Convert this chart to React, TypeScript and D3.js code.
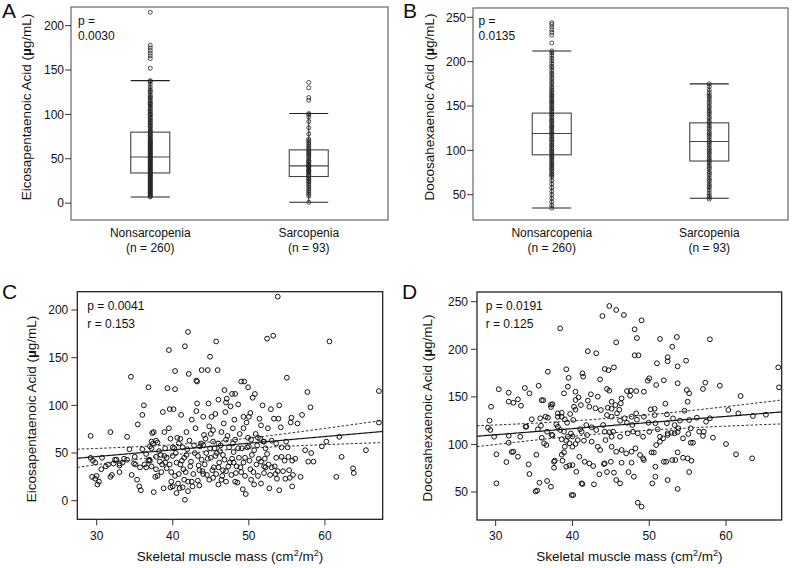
import React, { useEffect, useRef } from "react";
import * as d3 from "d3";

const FONT = '"Liberation Sans", Arial, Helvetica, sans-serif';

const groups = ["Nonsarcopenia", "Sarcopenia"];
const groupSizes = ["(n = 260)", "(n = 93)"];

// [lower whisker, Q1, median, Q3, upper whisker]
const epaStats = [[7, 34, 52, 80, 138], [1, 30, 42, 60, 101]];
const dhaStats = [[35, 95, 119, 142, 212], [46, 88, 110, 131, 175]];

// individual values plotted over the boxes
const epaNonsarc = [7, 8, 9, 10, 11, 12, 13, 14, 15, 16, 17, 18, 19, 20, 21, 22, 23, 24, 25, 26, 27, 28, 29, 30, 31, 32, 33, 34, 35, 36, 37, 38, 39, 40, 41, 42, 43, 44, 45, 46, 47, 48, 49, 50, 51, 52, 53, 54, 55, 56, 57, 58, 59, 60, 61, 62, 63, 64, 65, 66, 67, 68, 69, 70, 71, 72, 73, 75, 76, 77, 78, 80, 81, 82, 84, 86, 87, 88, 90, 91, 93, 94, 96, 97, 99, 100, 101, 103, 104, 106, 107, 109, 111, 112, 113, 115, 117, 119, 120, 122, 125, 126, 128, 131, 134, 137, 138, 152, 163, 166, 169, 172, 175, 178, 215];
const epaSarc = [1, 8, 10, 12, 14, 16, 18, 20, 22, 24, 25, 27, 28, 30, 31, 32, 34, 35, 36, 37, 38, 40, 41, 42, 43, 44, 46, 47, 48, 50, 52, 54, 55, 57, 58, 60, 62, 64, 66, 68, 70, 72, 78, 85, 92, 97, 100, 101, 116, 119, 130, 136];
const dhaNonsarc = [35, 38, 42, 46, 50, 54, 58, 62, 66, 70, 72, 73, 75, 77, 79, 80, 82, 84, 85, 87, 89, 91, 92, 94, 96, 98, 99, 101, 103, 105, 106, 108, 110, 112, 113, 115, 117, 119, 120, 122, 124, 126, 127, 129, 131, 133, 134, 136, 138, 140, 141, 143, 145, 147, 148, 150, 152, 154, 155, 157, 159, 161, 162, 164, 166, 168, 170, 172, 175, 177, 180, 182, 185, 187, 190, 193, 195, 198, 201, 204, 207, 210, 212, 221, 230, 233, 236, 239, 242, 244];
const dhaSarc = [45, 47, 49, 52, 55, 58, 60, 62, 65, 67, 69, 72, 74, 76, 79, 81, 83, 86, 88, 90, 92, 95, 97, 99, 101, 103, 106, 108, 110, 112, 115, 117, 119, 121, 124, 126, 128, 131, 133, 136, 138, 141, 143, 145, 148, 150, 153, 155, 158, 160, 162, 165, 168, 172, 175];

// [skeletal muscle mass, EPA]
const smmEpa = [
  [29.2, 68], [29.2, 45], [29.5, 42], [29.4, 25], [29.8, 23], [30, 26], [30.1, 17], [30.3, 20], [30.6, 33], [29.8, 40],
  [31.5, 38], [31.8, 72], [31.8, 25], [32.2, 39], [32.4, 43], [32.6, 43], [33, 30], [33, 39], [33.4, 40], [33.6, 44],
  [34, 67], [34.3, 54], [34.5, 130], [34.6, 27], [34.9, 39], [35.1, 38], [35.4, 80], [35.3, 22], [35.6, 15], [35.8, 11],
  [35.7, 35], [36, 90], [36.2, 100], [36, 54], [36.3, 38], [36.5, 35], [36.8, 119], [36.8, 42], [37, 57], [37.2, 62],
  [37, 42], [37.3, 71], [37.5, 72], [37.4, 60], [37.5, 9], [37.8, 63], [37.8, 46], [37.8, 33], [37.7, 25], [38.2, 52],
  [38.4, 48], [38.6, 38], [38.5, 30], [38.7, 93], [38.8, 13], [38.9, 72], [39, 40], [39.2, 34], [39.3, 118], [39, 55],
  [39.2, 45], [39.5, 158], [39.5, 76], [39.6, 96], [39.7, 65], [39.8, 30], [39.8, 20], [40, 15], [40.1, 96], [40.2, 55],
  [40.3, 136], [40.3, 117], [40.3, 26], [40.5, 8], [40.5, 40], [40.6, 66], [40.7, 18], [40.8, 60], [40.9, 13], [41, 38],
  [41.2, 42], [41.1, 90], [41.3, 56], [41.4, 33], [41.5, 22], [41.6, 162], [41.6, 1], [41.7, 30], [41.8, 48], [42, 177],
  [42, 20], [42.1, 133], [42.2, 63], [42.3, 36], [42.5, 20], [42.6, 15], [42.7, 28], [42.8, 58], [43, 76], [43.1, 126],
  [43.2, 125], [43.2, 102], [43.3, 47], [43.4, 37], [43.5, 32], [43.6, 57], [43.7, 60], [43.8, 137], [43.9, 31], [44, 88],
  [44.2, 38], [44.4, 50], [44.6, 137], [44.5, 27], [44.7, 102], [44.8, 78], [44.9, 151], [44.9, 55], [45, 45], [45.1, 88],
  [45.2, 32], [45.3, 62], [45.3, 24], [45.5, 55], [45.6, 91], [45.7, 167], [45.7, 28], [45.8, 50], [45.9, 137], [46, 106],
  [46, 17], [46.1, 40], [46.3, 58], [46.4, 72], [46.5, 26], [46.6, 32], [46.7, 81], [46.8, 43], [46.9, 93], [47, 103],
  [47, 64], [47.1, 107], [47.2, 68], [47.3, 36], [47.5, 40], [47.6, 99], [47.7, 27], [47.8, 112], [47.9, 60], [48, 51],
  [48.1, 85], [48.2, 112], [48.3, 29], [48.4, 36], [48.5, 19], [48.6, 101], [48.7, 45], [48.8, 70], [48.9, 35], [49, 125],
  [49.1, 55], [49.2, 12], [49.3, 88], [49.3, 40], [49.4, 125], [49.5, 26], [49.6, 7], [49.7, 82], [49.8, 56], [49.9, 119],
  [50, 88], [50.1, 42], [50.2, 33], [50.3, 64], [50.4, 48], [50.5, 108], [50.6, 30], [50.7, 17], [50.8, 112], [50.9, 70],
  [51, 38], [51.1, 58], [51.2, 26], [51.3, 44], [51.4, 86], [51.5, 65], [51.6, 18], [51.8, 100], [51.9, 62], [52, 36],
  [52.1, 44], [52.2, 55], [52.4, 170], [52.5, 76], [52.6, 38], [52.7, 13], [52.8, 27], [52.9, 96], [53, 63], [53.2, 173],
  [53.3, 86], [53.4, 36], [53.5, 28], [53.6, 60], [53.7, 23], [53.8, 214], [53.9, 86], [54, 100], [54, 11], [54.2, 77],
  [54.3, 46], [54.5, 31], [54.7, 42], [54.9, 62], [55, 129], [55.1, 56], [55.2, 46], [55.4, 24], [55.5, 82], [55.6, 87],
  [55.7, 42], [55.7, 15], [55.8, 27], [56.4, 81], [56.8, 25], [57, 90], [57.4, 53], [57.7, 114], [57.8, 41], [58.1, 98],
  [58.2, 50], [58.5, 41], [59.6, 57], [60.2, 62], [60.6, 167], [61.5, 25], [61.9, 67], [62.2, 46], [63.7, 34], [63.8, 29],
  [65.4, 53], [67.1, 115], [67.1, 82],
  [36.9, 43], [37.2, 55], [38, 61], [38.3, 41], [38.9, 47], [39.6, 38], [40, 47], [40.4, 50], [40.8, 28], [41, 65],
  [41.5, 45], [41.9, 54], [42.4, 41], [42.9, 50], [43.3, 21], [43.8, 43], [44, 58], [44.3, 65], [44.6, 44], [45, 70],
  [45.4, 35], [45.6, 47], [46, 60], [46.2, 52], [46.6, 48], [47, 31], [47.4, 56], [47.8, 44], [48.2, 64], [48.6, 55],
  [49, 30], [49.5, 45], [49.9, 66], [50.3, 22], [50.7, 53], [51.2, 66], [51.6, 41], [52, 29], [52.4, 49], [53, 35],
  [53.6, 45], [54.3, 56], [54.8, 23], [55.3, 32], [56.1, 44], [42.5, 85], [43.1, 94], [41.8, 72], [40, 56], [38, 26],
  [37.2, 36], [36.5, 49], [35, 46], [34, 43], [33, 37], [32, 27], [31.2, 36], [30.7, 45], [46.8, 116], [45.3, 74],
  [44.1, 69], [47.9, 76], [49.3, 76], [50.2, 92], [51.6, 79], [52.2, 35], [53.8, 31], [48.2, 20], [46.4, 22], [44.8, 22],
  [43.5, 16], [42, 10], [39.7, 14], [41.3, 14], [44, 28], [46, 35], [48, 40], [50, 57], [52, 62], [47, 20]
];

// [skeletal muscle mass, DHA]
const smmDha = [
  [38.4, 222], [39.2, 179], [36.8, 176.4], [39.5, 170], [39.4, 160.7], [35.6, 161.7], [33.8, 159.3], [34.4, 153.7], [30.4, 158], [38.9, 153.7],
  [40.4, 155.4], [40.4, 146.7], [32.9, 147.4], [32.3, 143.8], [31.7, 145], [33.3, 140.7], [29.4, 139.6], [36.2, 146.4], [36, 146.5], [37.2, 141.8],
  [37.4, 142.3], [37.2, 139.3], [38.1, 132.7], [38.6, 133.3], [38.1, 129], [38.6, 129], [39, 126.4], [39.3, 122.8], [39.7, 132], [40.1, 125.7],
  [40.2, 139.6], [40.4, 136.5], [36.8, 128.1], [36.5, 129.1], [35.8, 127.5], [34.7, 126.4], [35.5, 115.9], [35.9, 119.7], [33.9, 118.6], [36.7, 113.4],
  [37.3, 110.2], [37.4, 109.5], [37.9, 121.1], [38.1, 118.6], [38.4, 115.2], [38.9, 113.4], [39.8, 111.6], [39.4, 108.1], [40, 108.5], [38.6, 105.4],
  [39.2, 103.9], [39.6, 101.2], [40.4, 100.5], [40, 97.6], [29.2, 125], [29, 117.6], [29.3, 115.2], [29.8, 108.1], [31.7, 109.2], [33.2, 108.1],
  [31.7, 101.8], [32.3, 92.4], [32.9, 87.1], [31.4, 81.5], [30.1, 89.6], [34.3, 79.1], [35.3, 89.2], [34.4, 68.9], [30.1, 59.1], [35.7, 59.8],
  [35.2, 50.7], [35.4, 51.5], [36.7, 61.6], [37.2, 55.6], [37.6, 81.8], [37.7, 83], [37.6, 75.5], [38.6, 89.2], [38.9, 91.7], [38.7, 82.9],
  [39, 97.6], [39.2, 76.6], [39.6, 78], [40, 78.3], [40.5, 71.3], [39.9, 46.8], [40.1, 46.8], [36.3, 101.2], [36.6, 99.4], [36, 107],
  [32.1, 92], [34, 118.7], [31.7, 154.4],
  [44.8, 245.5], [45.7, 241.3], [46.7, 236], [43.9, 235], [49, 230.4], [48.1, 221], [48.4, 211.8], [51.4, 210.8], [53.6, 212.9], [45.7, 207.3],
  [53, 202.7], [42, 198], [43.1, 195.8], [48.1, 193.7], [48.6, 193.7], [52.4, 191.6], [52.4, 187.4], [51, 185.3], [53.7, 182.1], [45.4, 181],
  [44.2, 179.3], [44.7, 178], [43.6, 168.4], [41.3, 174.7], [41.4, 171.2], [50, 169.5], [49.8, 167], [50.9, 162.5], [51.9, 167.4], [53.7, 164.3],
  [44.5, 158.3], [44.8, 156.5], [47.1, 156.1], [47.6, 156.5], [48.3, 156.1], [49.3, 155.4], [46.4, 148.4], [46.3, 143.2], [47.5, 151.2], [42.4, 152.7],
  [43.3, 150.2], [45.1, 144.9], [40.8, 149.5], [41.1, 141.4], [42, 146], [42.2, 139.6], [43, 138], [43.7, 136.2], [44.6, 138.6], [45.1, 137.5],
  [45.6, 141.4], [44.5, 130.9], [45.1, 129.1], [45.8, 132.7], [46.1, 136.5], [46.8, 127.5], [47.7, 129.1], [46.2, 124.9], [47.1, 122.8], [47.8, 120.4],
  [48.3, 132.7], [48.4, 126], [49.3, 129.1], [50.2, 136.9], [50.7, 137.5], [50.7, 130.9], [49.9, 122.8], [50.8, 122.3], [51.1, 115.9], [52.4, 111.7],
  [52.9, 112.3], [53.3, 120.4], [52.3, 122.3], [53.7, 113], [41.8, 120.4], [42.5, 118], [43.1, 115.2], [44, 120.4], [41, 116], [41.2, 113.4],
  [41.9, 109.9], [44.2, 113.4], [44.8, 112.8], [45.3, 113.4], [45.1, 108.1], [46.2, 108.1], [47.2, 111.7], [47.9, 113.4], [48.5, 111.7], [49.2, 108.1],
  [50, 113.4], [51.4, 108.1], [51.8, 106.4], [52.4, 109.9], [53.3, 111.7], [40.7, 104.6], [41.5, 104], [42.5, 102.9], [43.3, 97.6], [44.3, 104.6],
  [45.1, 97.6], [45.7, 92.4], [46.4, 94.2], [47, 90.6], [47.7, 92.4], [48.2, 95.9], [48.8, 88.9], [49.2, 85.4], [50.3, 91.7], [50.6, 91.5],
  [50.9, 99.4], [51.4, 102.9], [51.9, 81.8], [52.2, 81.8], [53, 83.6], [53.4, 83.6], [53.7, 91.7], [40.9, 87.1], [41.6, 81.8], [42.2, 80.1],
  [42.7, 77.3], [43.6, 94.2], [44.2, 80.1], [45, 81.8], [45.4, 70.3], [46.4, 80.8], [47.7, 80.8], [48, 66.1], [49.3, 83.6], [50.8, 76.6],
  [50.8, 66.1], [52.4, 62.6], [50.4, 59.1], [45.7, 62.6], [46.2, 59.1], [42.8, 58.1], [41.2, 59.1], [53.7, 53.2], [48.5, 38.8], [49, 34.6],
  [47.3, 71], [44.5, 71], [52.1, 142.8], [53.1, 127.4], [52.3, 131.6], [53.8, 117], [54, 125], [41.3, 58.4], [43.5, 68.6], [44.1, 79.4],
  [57.9, 210.5], [54.8, 188], [66.8, 181], [57.3, 164.9], [57, 158.3], [59.2, 161.7], [54.9, 157.2], [55.2, 153.7], [66.9, 160], [55, 144.9],
  [61.9, 150.9], [54.6, 135.4], [60.3, 136.2], [61.6, 132.7], [63.5, 129.9], [65.2, 131.2], [55.2, 125.7], [56.2, 128.1], [57.9, 127.5], [57.4, 123.9],
  [55.4, 116.9], [56.5, 113.4], [57.1, 113.4], [55.1, 111], [57, 108.9], [58.3, 107.1], [54.4, 106.4], [55.4, 101.8], [55.7, 101.8], [60, 100.4],
  [54.4, 86], [55, 85.4], [55.5, 82.9], [61.3, 89.6], [63.4, 85.4], [55.2, 71]
];

const epaTicks = [0, 50, 100, 150, 200];
const dhaTicks = [50, 100, 150, 200, 250];
const smmTicks = [30, 40, 50, 60];

// [intercept, slope, mean x, 95% CI half-width at mean, CI half-width growth per unit x]
const epaFit = [25.3, 0.7, 45, 4.8, 0.469];
const dhaFit = [90.9, 0.643, 45, 7.8, 0.444];

function yTitle(g, x, y, name) {
  const t = g.append("text")
    .attr("transform", `translate(${x},${y}) rotate(-90)`)
    .attr("text-anchor", "middle")
    .attr("font-size", 13.5)
    .attr("fill", "#111");
  t.append("tspan").text(name + " (");
  t.append("tspan").attr("font-weight", "bold").text("µ");
  t.append("tspan").text("g/mL)");
}

function drawBoxPanel(svg, c) {
  const x = d3.scalePoint().domain(groups).range([c.left, c.right]).padding(0.5);
  const y = d3.scaleLinear().domain(c.yDomain).range([c.bottom, c.top]);
  const g = svg.append("g");
  const bw = 39;

  g.append("rect")
    .attr("x", c.left).attr("y", c.top)
    .attr("width", c.right - c.left).attr("height", c.bottom - c.top)
    .attr("fill", "none").attr("stroke", "#666").attr("stroke-width", 1.2);

  // y axis
  c.ticks.forEach((t) => {
    g.append("line").attr("x1", c.left - 6).attr("x2", c.left)
      .attr("y1", y(t)).attr("y2", y(t)).attr("stroke", "#333");
    g.append("text").attr("x", c.left - 7).attr("y", y(t) + 4.3)
      .attr("text-anchor", "end").attr("font-size", 12).attr("fill", "#111").text(t);
  });
  yTitle(g, c.titleX, c.titleY, c.title);

  groups.forEach((grp, i) => {
    const cx = x(grp);
    const [lo, q1, med, q3, hi] = c.stats[i];
    g.append("line").attr("x1", cx).attr("x2", cx).attr("y1", y(lo)).attr("y2", y(hi))
      .attr("stroke", "#222");
    g.append("rect").attr("x", cx - bw / 2).attr("y", y(q3))
      .attr("width", bw).attr("height", y(q1) - y(q3))
      .attr("fill", "none").attr("stroke", "#444").attr("stroke-width", 1.1);
    g.append("line").attr("x1", cx - bw / 2).attr("x2", cx + bw / 2)
      .attr("y1", y(med)).attr("y2", y(med)).attr("stroke", "#444").attr("stroke-width", 1.1);
    [lo, hi].forEach((v) => {
      g.append("line").attr("x1", cx - bw / 2).attr("x2", cx + bw / 2)
        .attr("y1", y(v)).attr("y2", y(v)).attr("stroke", "#222").attr("stroke-width", 1.1);
    });
    g.selectAll(null).data(c.values[i]).enter().append("circle")
      .attr("cx", cx).attr("cy", (d) => y(d)).attr("r", 2)
      .attr("fill", "none").attr("stroke", "#222").attr("stroke-width", 0.8);

    g.append("text").attr("x", cx).attr("y", 237).attr("text-anchor", "middle")
      .attr("font-size", 12).attr("fill", "#111").text(grp);
    g.append("text").attr("x", cx).attr("y", 251.5).attr("text-anchor", "middle")
      .attr("font-size", 12).attr("fill", "#111").text(groupSizes[i]);
  });

  g.append("text").attr("x", c.pX).attr("y", 25).attr("font-size", 12).attr("fill", "#111").text("p =");
  g.append("text").attr("x", c.pX).attr("y", 40).attr("font-size", 12).attr("fill", "#111").text(c.p);
  g.append("text").attr("x", c.letterX).attr("y", 18).attr("font-size", 21).attr("fill", "#111").text(c.letter);
}

function drawScatterPanel(svg, c) {
  const x = d3.scaleLinear().domain(c.xDomain).range([c.left, c.right]);
  const y = d3.scaleLinear().domain(c.yDomain).range([c.bottom, c.top]);
  const g = svg.append("g");

  g.append("rect")
    .attr("x", c.left).attr("y", c.top)
    .attr("width", c.right - c.left).attr("height", c.bottom - c.top)
    .attr("fill", "none").attr("stroke", "#111").attr("stroke-width", 1.2);

  c.yTicks.forEach((t) => {
    g.append("line").attr("x1", c.left - 6).attr("x2", c.left)
      .attr("y1", y(t)).attr("y2", y(t)).attr("stroke", "#333");
    g.append("text").attr("x", c.left - 9).attr("y", y(t) + 4.3)
      .attr("text-anchor", "end").attr("font-size", 12).attr("fill", "#111").text(t);
  });
  smmTicks.forEach((t) => {
    g.append("line").attr("x1", x(t)).attr("x2", x(t))
      .attr("y1", c.bottom).attr("y2", c.bottom + 6).attr("stroke", "#333");
    g.append("text").attr("x", x(t)).attr("y", 540)
      .attr("text-anchor", "middle").attr("font-size", 12).attr("fill", "#111").text(t);
  });
  yTitle(g, c.titleX, c.titleY, c.title);

  const xt = g.append("text").attr("x", (c.left + c.right) / 2).attr("y", 561)
    .attr("text-anchor", "middle").attr("font-size", 13.5).attr("fill", "#111");
  xt.append("tspan").text("Skeletal muscle mass (cm");
  xt.append("tspan").attr("font-size", 9).attr("dy", -5).text("2");
  xt.append("tspan").attr("dy", 5).text("/m");
  xt.append("tspan").attr("font-size", 9).attr("dy", -5).text("2");
  xt.append("tspan").attr("dy", 5).text(")");

  g.selectAll(null).data(c.points).enter().append("circle")
    .attr("cx", (d) => x(d[0])).attr("cy", (d) => y(d[1])).attr("r", 2.4)
    .attr("fill", "none").attr("stroke", "#111").attr("stroke-width", 1);

  const [b0, b1, xm, h0, hs] = c.fit;
  const xs = d3.range(c.xDomain[0], c.xDomain[1], 0.25).concat([c.xDomain[1]]);
  const half = (v) => Math.sqrt(h0 * h0 + (hs * (v - xm)) ** 2);
  const mk = (k) => d3.line().x((v) => x(v)).y((v) => y(b0 + b1 * v + k * half(v)))(xs);
  g.append("path").attr("d", mk(0)).attr("fill", "none").attr("stroke", "#111").attr("stroke-width", 1.2);
  [-1, 1].forEach((k) => {
    g.append("path").attr("d", mk(k)).attr("fill", "none").attr("stroke", "#222")
      .attr("stroke-width", 1).attr("stroke-dasharray", "2.5,2");
  });

  g.append("text").attr("x", c.pX).attr("y", 310).attr("font-size", 12).attr("fill", "#111").text(c.p);
  g.append("text").attr("x", c.pX).attr("y", 327.5).attr("font-size", 12).attr("fill", "#111").text(c.r);
  g.append("text").attr("x", c.letterX).attr("y", 299).attr("font-size", 21).attr("fill", "#111").text(c.letter);
}

export default function App() {
  const ref = useRef(null);
  useEffect(() => {
    const svg = d3.select(ref.current);
    svg.selectAll("*").remove();

    drawBoxPanel(svg, {
      left: 71, right: 388, top: 7, bottom: 220, yDomain: [-19, 221], ticks: epaTicks,
      stats: epaStats, values: [epaNonsarc, epaSarc], title: "Eicosapentaenoic Acid",
      titleX: 31, titleY: 107, p: "0.0030", pX: 78, letter: "A", letterX: 2
    });
    drawBoxPanel(svg, {
      left: 473, right: 788, top: 8, bottom: 220, yDomain: [21.5, 260.5], ticks: dhaTicks,
      stats: dhaStats, values: [dhaNonsarc, dhaSarc], title: "Docosahexaenoic Acid",
      titleX: 434, titleY: 107, p: "0.0135", pX: 478.5, letter: "B", letterX: 403
    });
    drawScatterPanel(svg, {
      left: 77.3, right: 382.7, top: 291.7, bottom: 519.3, xDomain: [27.45, 67.6], yDomain: [-19.5, 219.2],
      yTicks: epaTicks, points: smmEpa, fit: epaFit, title: "Eicosapentaenoic Acid",
      titleX: 36, titleY: 409, p: "p = 0.0041", r: "r = 0.153", pX: 87.3, letter: "C", letterX: 2
    });
    drawScatterPanel(svg, {
      left: 477, right: 781.7, top: 292, bottom: 520, xDomain: [27.57, 67.25], yDomain: [20.6, 260.2],
      yTicks: dhaTicks, points: smmDha, fit: dhaFit, title: "Docosahexaenoic Acid",
      titleX: 432, titleY: 408, p: "p = 0.0191", r: "r = 0.125", pX: 485.7, letter: "D", letterX: 402
    });
  }, []);

  return (
    <svg ref={ref} width={792} height={568} fontFamily={FONT}
      style={{ position: "absolute", left: 0, top: 0, background: "#fff" }} />
  );
}
